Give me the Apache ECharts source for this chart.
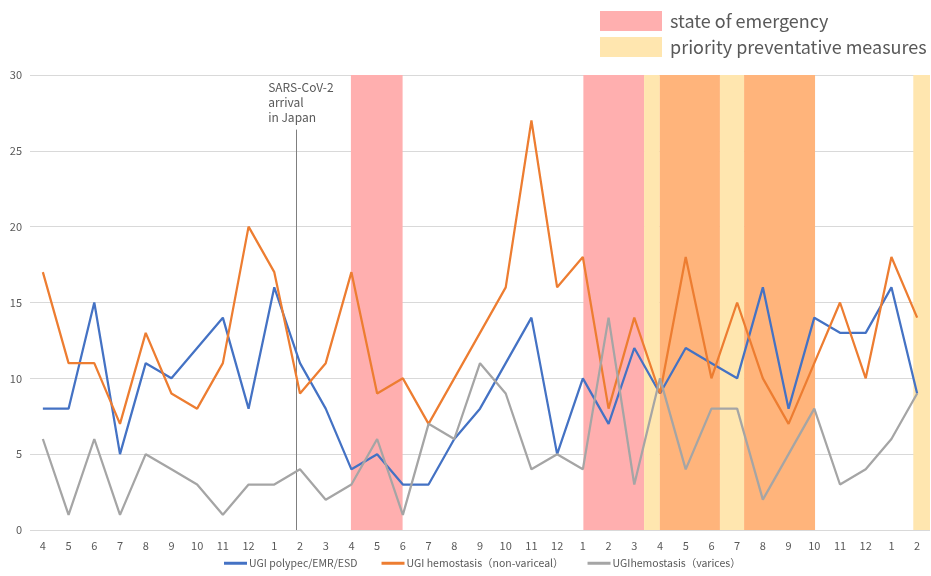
<!DOCTYPE html>
<html>
<head>
<meta charset="utf-8">
<script src="https://cdn.jsdelivr.net/npm/echarts@6/dist/echarts.min.js"></script>
<style>html,body{margin:0;padding:0;background:#fff}#c{width:931px;height:576px}</style>
</head>
<body>
<div id="c"></div>
<script>
const months = ['4','5','6','7','8','9','10','11','12','1','2','3','4','5','6','7','8','9','10','11','12','1','2','3','4','5','6','7','8','9','10','11','12','1','2'];
const polypec = [8,8,15,5,11,10,12,14,8,16,11,8,4,5,3,3,6,8,11,14,5,10,7,12,9,12,11,10,16,8,14,13,13,16,9];
const hemoNonVariceal = [17,11,11,7,13,9,8,11,20,17,9,11,17,9,10,7,10,13,16,27,16,18,8,14,9,18,10,15,10,7,11,15,10,18,14];
const hemoVarices = [6,1,6,1,5,4,3,1,3,3,4,2,3,6,1,7,6,11,9,4,5,4,14,3,10,4,8,8,2,5,8,3,4,6,9];
const yTicks = [0,5,10,15,20,25,30];
// periods in month-axis units (0 = left edge of first month band)
const emergencyPeriods = [[12.48,14.49],[21.52,23.88]];
const priorityPeriods = [[23.88,24.49],[26.83,27.77],[34.35,35]];
const overlapPeriods = [[24.49,26.83],[27.77,30.53]];
const arrival = 10.35;
const arrivalTop = 26.4;

const seriesNames = ['UGI polypec/EMR/ESD','UGI hemostasis（non-variceal）','UGIhemostasis（varices）'];
const colors = ['#4472C4','#ED7D31','#A5A5A5'];
const font = '"Noto Sans CJK JP", "Noto Sans", sans-serif';

function areas(p){ return p.map(d => [{xAxis:d[0]},{xAxis:d[1]}]); }

const chart = echarts.init(document.getElementById('c'));
chart.setOption({
  animation:false,
  textStyle:{fontFamily:font},
  grid:{left:30,right:1,top:75,bottom:46,containLabel:false},
  legend:[{
    data:seriesNames,
    left:219, top:553,
    icon:'rect', itemWidth:23, itemHeight:3, itemGap:24,
    textStyle:{fontSize:10.5,color:'#595959',fontFamily:font,padding:[0,0,0,-3]}
  },{
    data:['state of emergency','priority preventative measures'],
    orient:'vertical', left:595, top:6,
    icon:'rect', itemWidth:62, itemHeight:20, itemGap:6,
    textStyle:{fontSize:18,color:'#595959',fontFamily:font,padding:[0,0,0,3]}
  }],
  xAxis:[{
    type:'category', data:months, boundaryGap:true,
    axisLine:{show:false}, axisTick:{show:false},
    axisLabel:{interval:0,fontSize:11,color:'#595959',margin:10}
  },{
    type:'value', min:0, max:35, show:false
  }],
  yAxis:{
    type:'value', min:yTicks[0], max:yTicks[yTicks.length-1], interval:5,
    axisLine:{show:false}, axisTick:{show:false},
    axisLabel:{fontSize:11,color:'#595959',margin:8},
    splitLine:{lineStyle:{color:'#d9d9d9',width:1}}
  },
  series:[
    {name:'state of emergency', type:'line', xAxisIndex:1, data:[], z:1,
     itemStyle:{color:'#FFAFAF'}, lineStyle:{color:'#FFAFAF'},
     markArea:{silent:true, itemStyle:{color:'#FFAFAF'}, data:areas(emergencyPeriods)}},
    {name:'priority preventative measures', type:'line', xAxisIndex:1, data:[], z:1,
     itemStyle:{color:'#FFE6AF'}, lineStyle:{color:'#FFE6AF'},
     markArea:{silent:true, itemStyle:{color:'#FFE6AF'}, data:areas(priorityPeriods)}},
    {name:'overlap', type:'line', xAxisIndex:1, data:[], z:1,
     markArea:{silent:true, itemStyle:{color:'#FFB47B'}, data:areas(overlapPeriods)}},
    {name:'arrival', type:'line', xAxisIndex:1, data:[], z:2,
     markLine:{silent:true, symbol:'none', lineStyle:{color:'#7f7f7f',width:1,type:'solid'},
       label:{show:true, position:'end', formatter:'SARS-CoV-2\narrival\nin Japan', color:'#595959', fontSize:12, lineHeight:15, align:'left', offset:[-28,0], fontFamily:font},
       data:[[{coord:[arrival,0]},{coord:[arrival,arrivalTop]}]]}},
    {name:seriesNames[0], type:'line', data:polypec, symbol:'none', z:5, color:colors[0], lineStyle:{width:2.25,color:colors[0]}},
    {name:seriesNames[1], type:'line', data:hemoNonVariceal, symbol:'none', z:5, color:colors[1], lineStyle:{width:2.25,color:colors[1]}},
    {name:seriesNames[2], type:'line', data:hemoVarices, symbol:'none', z:5, color:colors[2], lineStyle:{width:2.25,color:colors[2]}}
  ]
});
</script>
</body>
</html>
